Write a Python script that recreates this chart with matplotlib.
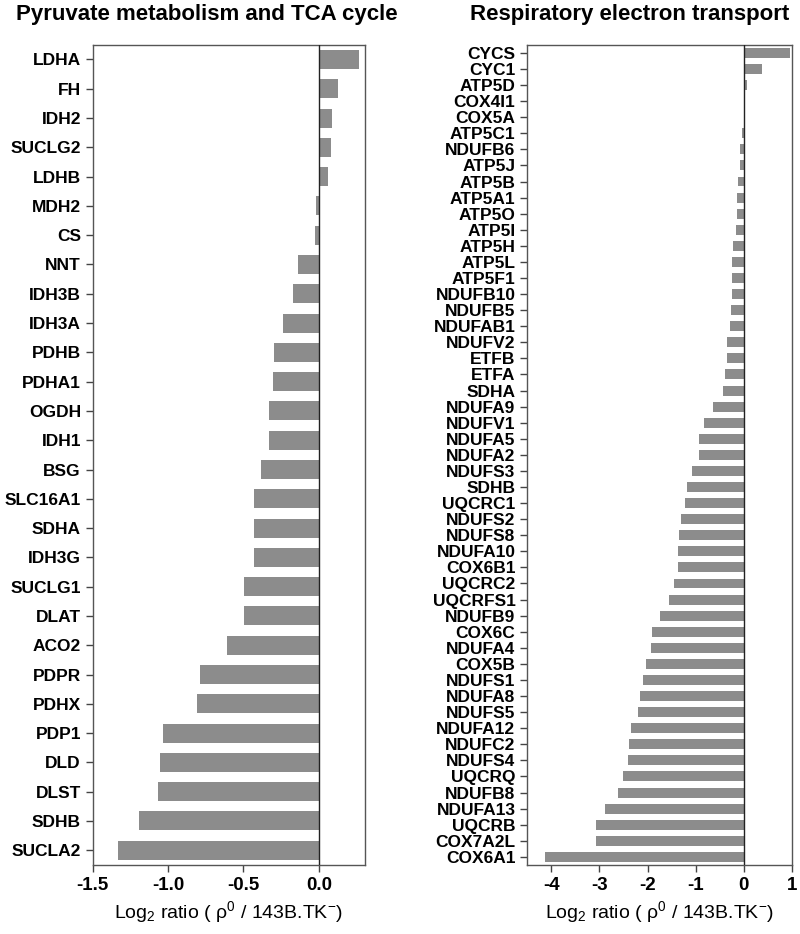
import matplotlib
matplotlib.use("Agg")
import matplotlib.pyplot as plt
import numpy as np

plt.rcParams['font.family'] = ['Liberation Sans', 'DejaVu Sans']
plt.rcParams['mathtext.fontset'] = 'custom'
plt.rcParams['mathtext.rm'] = 'Liberation Sans'
plt.rcParams['mathtext.it'] = 'Liberation Sans'

# Pyruvate metabolism and TCA cycle
tca_genes = ['LDHA', 'FH', 'IDH2', 'SUCLG2', 'LDHB', 'MDH2', 'CS', 'NNT', 'IDH3B',
             'IDH3A', 'PDHB', 'PDHA1', 'OGDH', 'IDH1', 'BSG', 'SLC16A1', 'SDHA',
             'IDH3G', 'SUCLG1', 'DLAT', 'ACO2', 'PDPR', 'PDHX', 'PDP1', 'DLD',
             'DLST', 'SDHB', 'SUCLA2']
tca_vals = [0.267, 0.128, 0.088, 0.079, 0.060, -0.020, -0.028, -0.141, -0.170,
            -0.240, -0.298, -0.307, -0.329, -0.329, -0.386, -0.428, -0.428,
            -0.428, -0.497, -0.497, -0.607, -0.788, -0.808, -1.035, -1.053,
            -1.066, -1.194, -1.333]

# Respiratory electron transport
ret_genes = ['CYCS', 'CYC1', 'ATP5D', 'COX4I1', 'COX5A', 'ATP5C1', 'NDUFB6', 'ATP5J',
             'ATP5B', 'ATP5A1', 'ATP5O', 'ATP5I', 'ATP5H', 'ATP5L', 'ATP5F1',
             'NDUFB10', 'NDUFB5', 'NDUFAB1', 'NDUFV2', 'ETFB', 'ETFA', 'SDHA',
             'NDUFA9', 'NDUFV1', 'NDUFA5', 'NDUFA2', 'NDUFS3', 'SDHB', 'UQCRC1',
             'NDUFS2', 'NDUFS8', 'NDUFA10', 'COX6B1', 'UQCRC2', 'UQCRFS1', 'NDUFB9',
             'COX6C', 'NDUFA4', 'COX5B', 'NDUFS1', 'NDUFA8', 'NDUFS5', 'NDUFA12',
             'NDUFC2', 'NDUFS4', 'UQCRQ', 'NDUFB8', 'NDUFA13', 'UQCRB', 'COX7A2L',
             'COX6A1']
ret_vals = [0.96, 0.385, 0.07, 0.02, 0.01, -0.04, -0.075, -0.09, -0.12, -0.135,
            -0.14, -0.17, -0.22, -0.24, -0.24, -0.25, -0.27, -0.29, -0.36, -0.36,
            -0.39, -0.43, -0.64, -0.83, -0.93, -0.93, -1.08, -1.19, -1.23, -1.30,
            -1.35, -1.37, -1.37, -1.46, -1.56, -1.74, -1.91, -1.92, -2.04, -2.10,
            -2.16, -2.20, -2.35, -2.39, -2.41, -2.51, -2.62, -2.88, -3.07, -3.07,
            -4.12]

bar_color = '#8c8c8c'
xlabel = r'Log$_2$ ratio ( ρ$^0$ / 143B.TK$^{-}$)'

fig = plt.figure(figsize=(8, 9.34), dpi=100)
ax1 = fig.add_axes([0.116, 0.074, 0.340, 0.878])
ax2 = fig.add_axes([0.659, 0.074, 0.331, 0.878])


def draw(ax, genes, vals, height, xlim, ticks, ticklabels, labelsize):
    y = np.arange(len(genes))
    ax.barh(y, vals, height=height, color=bar_color, zorder=2)
    ax.axvline(0, color='#222222', lw=1.0, zorder=3)
    ax.set_yticks(y)
    ax.set_yticklabels(genes, fontsize=labelsize, fontweight='bold')
    ax.set_ylim(len(genes) - 0.5, -0.5)
    ax.set_xlim(*xlim)
    ax.set_xticks(ticks)
    ax.set_xticklabels(ticklabels, fontsize=13.5, fontweight='bold')
    ax.tick_params(axis='both', direction='out', length=5, width=1, color='#444444')
    for s in ax.spines.values():
        s.set_color('#555555')
        s.set_linewidth(1)
    ax.set_xlabel(xlabel, fontsize=14, labelpad=4)


draw(ax1, tca_genes, tca_vals, 0.65, (-1.5, 0.305),
     [-1.5, -1.0, -0.5, 0.0], ['-1.5', '-1.0', '-0.5', '0.0'], 12.5)
draw(ax2, ret_genes, ret_vals, 0.62, (-4.5, 1.0),
     [-4, -3, -2, -1, 0, 1], ['-4', '-3', '-2', '-1', '0', '1'], 12.5)

fig.text(0.258, 0.984, 'Pyruvate metabolism and TCA cycle', ha='center', va='center',
         fontsize=16, fontweight='bold')
fig.text(0.787, 0.984, 'Respiratory electron transport', ha='center', va='center',
         fontsize=16, fontweight='bold')

fig.savefig('out.png', dpi=100)
